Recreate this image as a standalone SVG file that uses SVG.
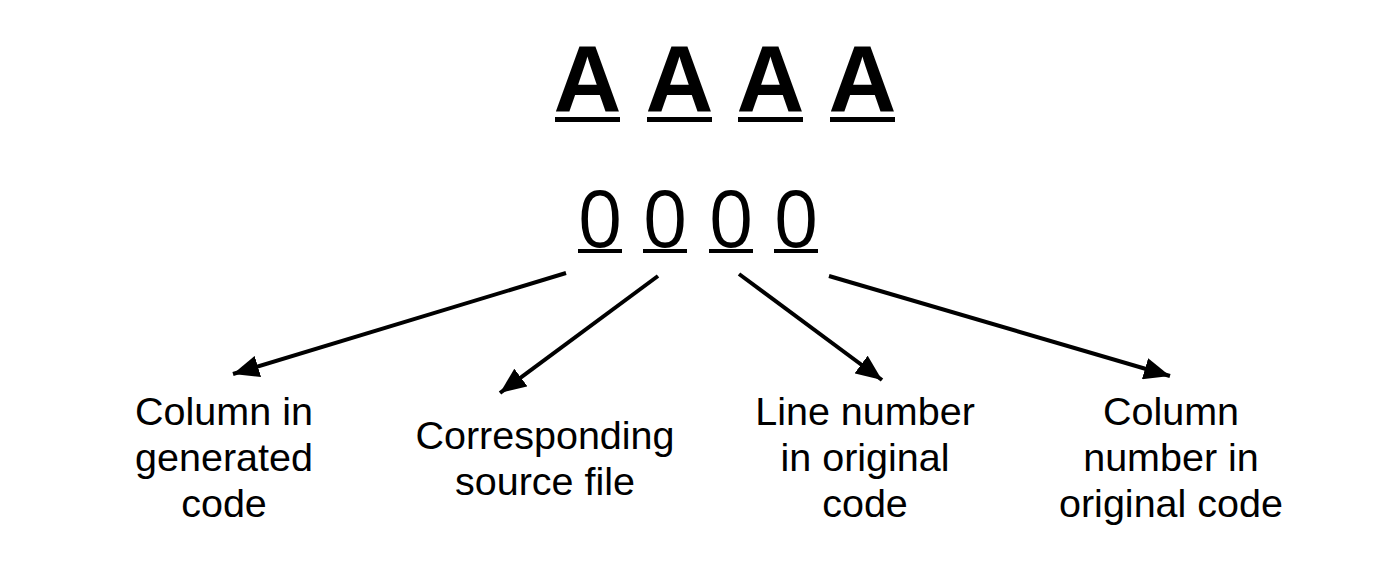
<svg xmlns="http://www.w3.org/2000/svg" width="1400" height="582" viewBox="0 0 1400 582">
<defs>
<style>
.big{font-family:"Liberation Sans",Arial,sans-serif;font-weight:bold;font-size:94px;fill:#000;text-anchor:middle}
.dig{font-family:"Open Sans",sans-serif;font-size:79px;fill:#000;text-anchor:middle}
.lbl{font-family:"Liberation Sans",Arial,sans-serif;font-size:39.5px;fill:#000;text-anchor:middle}
.conn line{stroke:#000;stroke-width:4;fill:none}
</style>
<marker id="ah" markerUnits="userSpaceOnUse" markerWidth="28" markerHeight="22" refX="26" refY="11" orient="auto">
<path d="M0,0 L26,11 L0,22 Z" fill="#000"/>
</marker>
</defs>
<rect width="1400" height="582" fill="#fff"/>
<g id="letters">
<text class="big" x="587.5" y="112">A</text>
<text class="big" x="679.5" y="112">A</text>
<text class="big" x="770.5" y="112">A</text>
<text class="big" x="862.5" y="112">A</text>
<rect x="555" y="117" width="65" height="5"/>
<rect x="647" y="117" width="65" height="5"/>
<rect x="738" y="117" width="65" height="5"/>
<rect x="830" y="117" width="65" height="5"/>
</g>
<g id="digits">
<text class="dig" x="600" y="247">0</text>
<text class="dig" x="665" y="247">0</text>
<text class="dig" x="731" y="247">0</text>
<text class="dig" x="796" y="247">0</text>
<rect x="578" y="249" width="44" height="4"/>
<rect x="643" y="249" width="44" height="4"/>
<rect x="709" y="249" width="44" height="4"/>
<rect x="774" y="249" width="44" height="4"/>
</g>
<g class="conn" id="connectors">
<line x1="566" y1="273" x2="233" y2="374" marker-end="url(#ah)"/>
<line x1="658" y1="276" x2="500" y2="393" marker-end="url(#ah)"/>
<line x1="739" y1="274" x2="882" y2="380" marker-end="url(#ah)"/>
<line x1="829" y1="276" x2="1170" y2="376" marker-end="url(#ah)"/>
</g>
<g id="label1">
<text class="lbl" x="224" y="425">Column in</text>
<text class="lbl" x="224" y="471">generated</text>
<text class="lbl" x="224" y="517">code</text>
</g>
<g id="label2">
<text class="lbl" x="545" y="449">Corresponding</text>
<text class="lbl" x="545" y="495">source file</text>
</g>
<g id="label3">
<text class="lbl" x="865" y="425">Line number</text>
<text class="lbl" x="865" y="471">in original</text>
<text class="lbl" x="865" y="517">code</text>
</g>
<g id="label4">
<text class="lbl" x="1171" y="425">Column</text>
<text class="lbl" x="1171" y="471">number in</text>
<text class="lbl" x="1171" y="517">original code</text>
</g>
</svg>
